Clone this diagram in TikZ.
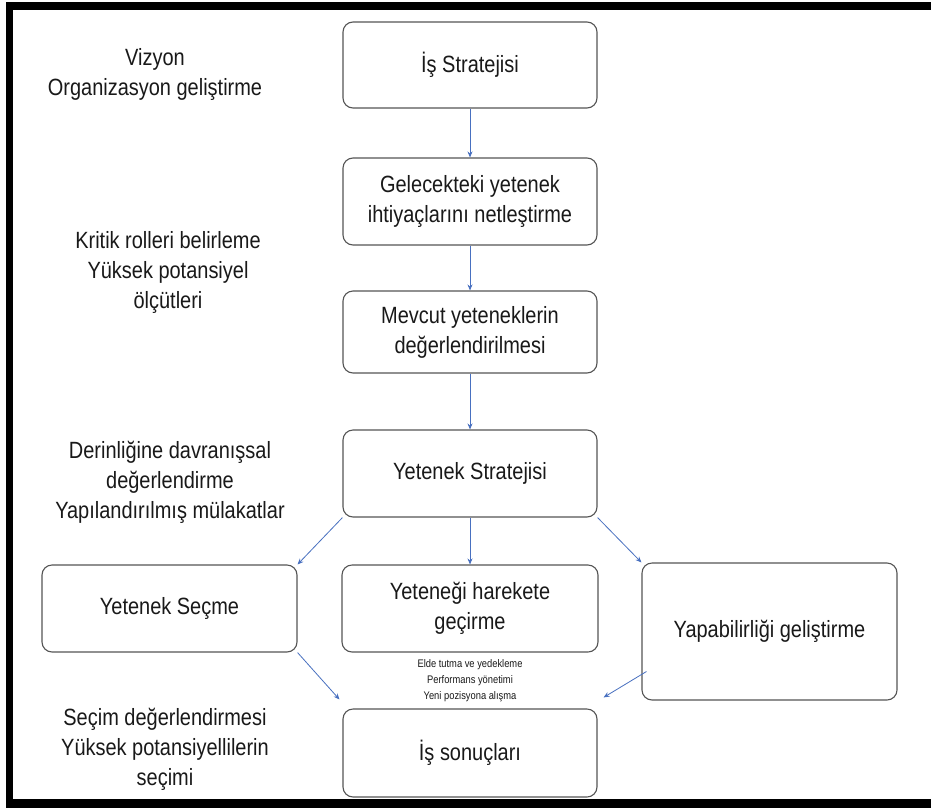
\documentclass[tikz,border=0pt]{standalone}
\usepackage{fontspec}
\setmainfont{Liberation Sans}[FakeStretch=0.85]
\usetikzlibrary{arrows.meta,calc}
\definecolor{arrowblue}{RGB}{72,112,192}
\definecolor{boxline}{RGB}{85,85,85}
\definecolor{txt}{RGB}{25,25,25}
\begin{document}
\begin{tikzpicture}[x=1pt,y=-1pt,
  box/.style={draw=boxline, line width=1.1pt, rounded corners=10pt, fill=white, text=txt,
    inner sep=0pt, align=center, font=\fontsize{23.5}{30}\selectfont},
  side/.style={align=center, inner sep=0pt, text=txt, font=\fontsize{23.5}{30}\selectfont},
  small/.style={align=center, inner sep=0pt, text=txt, font=\fontsize{11}{16}\selectfont},
  arr/.style={draw=arrowblue, line width=0.8pt, -{Stealth[length=6pt,width=5pt]}}]
\useasboundingbox (0,0) rectangle (931,809);
\fill[white] (0,0) rectangle (931,809);
\fill[black] (6,2) rectangle (931,10);
\fill[black] (6,2) rectangle (13,808);
\fill[black] (6,799) rectangle (931,808);

\node[box, minimum width=254pt, minimum height=86pt] (b1) at (470,65) {İş Stratejisi};
\node[box, minimum width=254pt, minimum height=87pt] (b2) at (470,201.5) {Gelecekteki yetenek\\ihtiyaçlarını netleştirme};
\node[box, minimum width=254pt, minimum height=82pt] (b3) at (470,332) {Mevcut yeteneklerin\\değerlendirilmesi};
\node[box, minimum width=254pt, minimum height=87pt] (b4) at (470,473.5) {Yetenek Stratejisi};
\node[box, minimum width=255pt, minimum height=87pt] (sel) at (169.5,608.5) {Yetenek Seçme};
\node[box, minimum width=256pt, minimum height=87pt] (mob) at (470,608.5) {Yeteneği harekete\\geçirme};
\node[box, minimum width=255pt, minimum height=137pt] (cap) at (769.5,631.5) {Yapabilirliği geliştirme};
\node[box, minimum width=254pt, minimum height=88pt] (res) at (470,753) {İş sonuçları};

\node[side] (t1) at (155,74) {Vizyon\\Organizasyon geliştirme};
\node[side] (t2) at (168,272) {Kritik rolleri belirleme\\Yüksek potansiyel\\ölçütleri};
\node[side] (t3) at (170,482) {Derinliğine davranışsal\\değerlendirme\\Yapılandırılmış mülakatlar};
\node[side] (t4) at (165,749) {Seçim değerlendirmesi\\Yüksek potansiyellilerin\\seçimi};
\node[small] (t5) at (470,681) {Elde tutma ve yedekleme\\Performans yönetimi\\Yeni pozisyona alışma};

\coordinate (inl) at ($(res.north west)+(-3,-9)$);
\coordinate (inr) at ($(res.north east)+(6,-11)$);
\coordinate (outr) at ($(cap.west)+(5,40)$);

\draw[arr] (b1) -- (b2);
\draw[arr] (b2) -- (b3);
\draw[arr] (b3) -- (b4);
\draw[arr] (b4) -- (mob);
\draw[arr] (b4.south west) -- (sel.north east);
\draw[arr] (b4.south east) -- (cap.north west);
\draw[arr] (sel.south east) -- (inl);
\draw[arr] (outr) -- (inr);
\end{tikzpicture}
\end{document}
